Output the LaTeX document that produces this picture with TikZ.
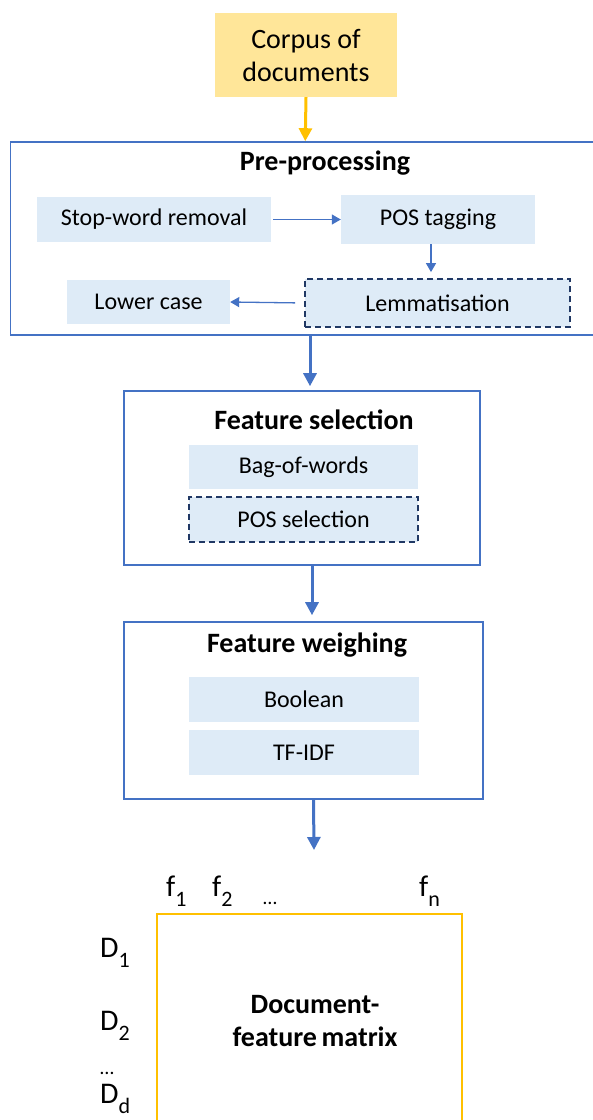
\documentclass[tikz,border=0pt]{standalone}
\usepackage{fontspec}
\setmainfont{Carlito}
\usetikzlibrary{arrows.meta,calc}
\definecolor{ublue}{HTML}{4472C4}
\definecolor{ufill}{HTML}{DEEBF7}
\definecolor{unavy}{HTML}{203864}
\definecolor{uyellow}{HTML}{FFE699}
\definecolor{uorange}{HTML}{FFC000}
\begin{document}
\begin{tikzpicture}[x=1pt,y=-1pt,
  bodytext/.style={font=\fontsize{24}{28}\selectfont},
  titletext/.style={font=\fontsize{28}{33}\selectfont\bfseries},
  stepbox/.style={fill=ufill,draw=none,inner sep=0pt,bodytext},
  dashbox/.style={stepbox,draw=unavy,line width=1.8pt,dash pattern=on 6pt off 4pt},
  groupbox/.style={draw=ublue,line width=1.6pt,fill=none,inner sep=0pt},
  thinarrow/.style={draw=ublue,line width=1.3pt,-{Triangle[length=9pt,width=10pt]}},
  bigarrow/.style={draw=ublue,line width=3pt,-{Triangle[length=13pt,width=13pt]}},
  labeltext/.style={font=\fontsize{30}{30}\selectfont,inner sep=0pt,anchor=base west}
]
\useasboundingbox (0,0) rectangle (593,1120);
\clip (0,0) rectangle (593,1120);
\newcommand{\subtxt}[1]{\raisebox{-10pt}{\fontsize{22}{22}\selectfont #1}}

% corpus
\node[fill=uyellow,minimum width=182pt,minimum height=84pt,inner sep=0pt,
      align=center,font=\fontsize{28}{33}\selectfont] (corpus) at (306,55) {Corpus of\\documents};

% pre-processing group
\node[groupbox,minimum width=589.5pt,minimum height=193pt] (pre) at (305.25,238.5) {};
\node[titletext,inner sep=0pt] (pretitle) at (325,163) {Pre-processing};
\node[stepbox,minimum width=234pt,minimum height=45pt] (stop) at (154,219.5) {Stop-word removal};
\node[stepbox,minimum width=194pt,minimum height=49pt] (pos) at (438,219.5) {POS tagging};
\node[dashbox,minimum width=265pt,minimum height=48pt] (lemma) at (437.5,303) {Lemmatisation};
\node[stepbox,minimum width=163pt,minimum height=44pt] (lower) at (148.5,302) {Lower case};

\draw[uorange,line width=3pt,-{Triangle[length=13pt,width=13pt]}] (corpus.south) -- (pre.north);
\draw[thinarrow,shorten <=2pt] (stop.east) -- (pos.west);
\draw[thinarrow,shorten >=6pt] ([xshift=-7pt]pos.south) -- ([xshift=-6.5pt]lemma.north);
\draw[thinarrow,shorten <=9pt] (lemma.west) -- (lower.east);

% feature selection
\node[groupbox,minimum width=356pt,minimum height=174pt] (featsel) at (302,478) {};
\node[titletext,inner sep=0pt] (fstitle) at (314,420) {Feature selection};
\node[stepbox,minimum width=229pt,minimum height=44pt] (bow) at (303.5,467) {Bag-of-words};
\node[dashbox,minimum width=229pt,minimum height=45pt] (possel) at (303.5,519.5) {POS selection};

\draw[bigarrow,shorten >=4pt] ([xshift=4.75pt]pre.south) -- ([xshift=8pt]featsel.north);

% feature weighing
\node[groupbox,minimum width=359pt,minimum height=177pt] (featw) at (303.5,710.5) {};
\node[titletext,inner sep=0pt] (fwtitle) at (307,645) {Feature weighing};
\node[stepbox,minimum width=230pt,minimum height=45pt] (bool) at (304,699.5) {Boolean};
\node[stepbox,minimum width=230pt,minimum height=45pt] (tfidf) at (304,752.5) {TF-IDF};

\draw[bigarrow,shorten >=6pt] ([xshift=10pt]featsel.south) -- ([xshift=8.5pt]featw.north);

% matrix
\coordinate (mtop) at (314,850);
\draw[bigarrow] ([xshift=10pt]featw.south) -- (mtop);
\node[draw=uorange,line width=1.6pt,minimum width=305pt,minimum height=216pt,inner sep=0pt] (matrix) at (309.5,1022) {};
\node[titletext,align=center,inner sep=0pt] (mtext) at (315,1021) {Document-\\feature\,matrix};

\node[labeltext] (f1) at (166,896) {f\subtxt{1}};
\node[labeltext] (f2) at (212,896) {f\subtxt{2}};
\node[labeltext,font=\fontsize{20}{20}\selectfont] (fdots) at (263,904) {…};
\node[labeltext] (fn) at (419,896) {f\subtxt{n}};
\node[labeltext] (d1) at (100,957) {D\subtxt{1}};
\node[labeltext] (d2) at (100,1030) {D\subtxt{2}};
\node[labeltext,font=\fontsize{20}{20}\selectfont] (ddots) at (100,1074) {…};
\node[labeltext] (dd) at (100,1103) {D\subtxt{d}};
\end{tikzpicture}
\end{document}
